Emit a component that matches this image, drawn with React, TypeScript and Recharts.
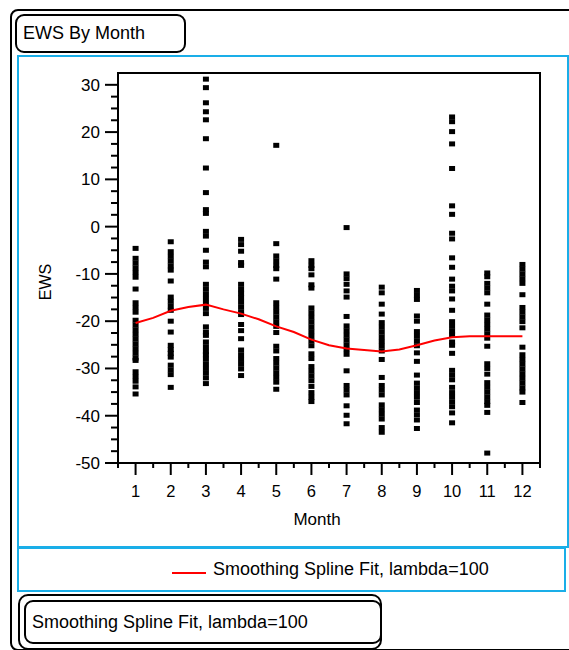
import { ScatterChart, Scatter, XAxis, YAxis, ReferenceArea } from "recharts";

// EWS readings per month (one entry per plotted square)
const ewsJan = [-4.6, -6.7, -7.7, -8.7, -9.7, -10.7, -13.2, -16.1, -17.1, -18.1, -19.8, -20.8, -21.8, -22.8, -23.8, -24.8, -25.8, -26.8, -27.8, -28.3, -30.7, -31.7, -32.7, -33.9, -35.4];
const ewsFeb = [-3.2, -5.3, -6.3, -7.3, -8.3, -9.2, -11.5, -14.9, -15.8, -16.8, -17.7, -20.0, -22.3, -25.1, -26.0, -26.8, -27.6, -29.3, -30.3, -31.3, -34.0];
const ewsMar = [31.2, 29.4, 26.2, 24.3, 22.6, 18.6, 12.4, 7.2, 3.6, 2.8, -1.0, -2.0, -5.0, -7.5, -8.5, -12.2, -13.2, -14.2, -15.2, -16.2, -17.3, -18.4, -21.2, -22.3, -23.0, -24.4, -25.4, -26.4, -27.1, -28.0, -29.0, -30.0, -31.0, -32.0, -33.2];
const ewsApr = [-2.7, -3.8, -5.2, -7.6, -8.2, -12.2, -13.2, -14.1, -15.0, -16.0, -17.0, -18.0, -18.6, -20.7, -22.0, -23.7, -26.1, -27.1, -28.1, -29.1, -30.1, -31.5];
const ewsMay = [17.2, -3.6, -6.2, -7.2, -8.2, -8.9, -11.1, -16.1, -17.1, -18.1, -19.1, -20.1, -21.1, -22.4, -25.3, -26.3, -27.9, -28.9, -29.9, -30.9, -31.9, -32.9, -34.4];
const ewsJun = [-7.2, -8.2, -8.9, -10.2, -12.3, -13.0, -17.2, -18.2, -19.2, -20.2, -21.2, -22.2, -23.2, -24.2, -25.2, -26.9, -27.9, -29.6, -30.6, -31.6, -32.6, -33.8, -35.1, -36.1, -37.0];
const ewsJul = [-0.2, -10.0, -11.0, -12.2, -13.6, -14.9, -19.0, -21.0, -22.0, -23.0, -24.0, -25.0, -26.0, -27.0, -30.5, -33.6, -34.6, -35.6, -37.9, -39.9, -41.7];
const ewsAug = [-12.8, -14.0, -16.4, -18.5, -20.3, -21.3, -22.3, -23.3, -24.3, -25.3, -26.3, -28.1, -31.9, -33.6, -34.6, -35.6, -37.7, -38.7, -39.7, -40.7, -42.5, -43.5];
const ewsSep = [-13.5, -14.5, -15.4, -18.9, -20.0, -22.2, -23.2, -24.2, -25.2, -26.7, -28.5, -31.4, -33.1, -34.1, -35.1, -36.1, -37.2, -38.8, -39.8, -40.9, -42.7];
const ewsOct = [23.2, 22.2, 20.1, 17.5, 12.3, 4.4, 2.6, -1.4, -2.6, -6.6, -8.6, -11.1, -12.6, -13.6, -15.3, -17.7, -20.1, -21.1, -22.1, -22.9, -24.4, -25.1, -26.8, -30.4, -31.4, -32.4, -34.0, -35.1, -36.1, -37.1, -38.1, -39.4, -41.5];
const ewsNov = [-9.8, -10.6, -12.0, -13.0, -14.0, -16.4, -18.7, -19.7, -20.7, -21.7, -22.7, -23.6, -25.3, -29.0, -30.0, -31.2, -33.0, -34.0, -35.0, -36.0, -37.0, -37.8, -39.3, -47.9];
const ewsDec = [-8.0, -9.0, -10.0, -11.0, -12.0, -14.4, -17.1, -18.1, -19.1, -20.1, -21.4, -25.5, -27.1, -28.1, -29.1, -30.1, -31.1, -32.1, -33.1, -34.1, -35.0, -37.2];

const monthValues = [ewsJan, ewsFeb, ewsMar, ewsApr, ewsMay, ewsJun, ewsJul, ewsAug, ewsSep, ewsOct, ewsNov, ewsDec];

// smoothing spline, read at half-month steps
const splineMonths = [1, 1.5, 2, 2.5, 3, 3.5, 4, 4.5, 5, 5.5, 6, 6.5, 7, 7.5, 8, 8.5, 9, 9.5, 10, 10.5, 11, 11.5, 12];
const splineEws = [-20.4, -19.3, -17.8, -17.0, -16.5, -17.5, -18.4, -19.6, -21.1, -22.3, -23.9, -25.1, -25.8, -26.1, -26.4, -26.0, -25.1, -24.1, -23.4, -23.2, -23.2, -23.2, -23.2];

const xTicks = [0.5, 1, 1.5, 2, 2.5, 3, 3.5, 4, 4.5, 5, 5.5, 6, 6.5, 7, 7.5, 8, 8.5, 9, 9.5, 10, 10.5, 11, 11.5, 12, 12.5];
const yTicks = [-50, -47.5, -45, -42.5, -40, -37.5, -35, -32.5, -30, -27.5, -25, -22.5, -20, -17.5, -15, -12.5, -10, -7.5, -5, -2.5, 0, 2.5, 5, 7.5, 10, 12.5, 15, 17.5, 20, 22.5, 25, 27.5, 30];

const legendLabel = "Smoothing Spline Fit, lambda=100";

const points = monthValues.flatMap((vals, i) => vals.map((v) => ({ month: i + 1, ews: v })));
const spline = splineMonths.map((m, i) => ({ month: m, ews: splineEws[i] }));

const FONT = '"Liberation Sans", Arial, sans-serif';
const BLUE = "#1aaee8";

const YTick = (props: any) => {
  const { x, y, payload } = props;
  const major = payload.value % 10 === 0;
  return (
    <g>
      <line x1={x} x2={x - (major ? 13 : 7)} y1={y} y2={y} stroke="#000" strokeWidth={2} />
      {major && (
        <text x={x - 18} y={y + 6} textAnchor="end" fontSize={17} fontFamily={FONT} fill="#000">
          {payload.value}
        </text>
      )}
    </g>
  );
};

const XTick = (props: any) => {
  const { x, y, payload } = props;
  const major = Number.isInteger(payload.value);
  return (
    <g>
      <line x1={x} x2={x} y1={y} y2={y + (major ? 12 : 5)} stroke="#000" strokeWidth={2} />
      {major && (
        <text x={x} y={y + 34} textAnchor="middle" fontSize={16.5} fontFamily={FONT} fill="#000">
          {payload.value}
        </text>
      )}
    </g>
  );
};

const Square = (props: any) => (
  <rect x={props.cx - 3} y={props.cy - 2.5} width={6} height={5} fill="#000" />
);

export default function App() {
  return (
    <div style={{ position: "absolute", left: 0, top: 0, width: 569, height: 650, overflow: "hidden", background: "#fff", fontFamily: FONT }}>
      {/* outer frame */}
      <div style={{ position: "absolute", left: 10, top: 9, width: 600, height: 638, border: "2px solid #000", borderRadius: 8 }} />
      {/* title */}
      <div style={{ position: "absolute", left: 15, top: 14, width: 161, height: 35, border: "2px solid #000", borderRadius: 9, display: "flex", alignItems: "center", paddingLeft: 6, fontSize: 18, color: "#000" }}>
        EWS By Month
      </div>
      {/* chart frame */}
      <div style={{ position: "absolute", left: 17, top: 55, width: 548, height: 489, border: `2px solid ${BLUE}` }} />
      <div style={{ position: "absolute", left: 0, top: 0 }}>
        <ScatterChart width={569} height={540} margin={{ top: 73, right: 29, bottom: 37, left: 58 }}>
          <XAxis
            type="number"
            dataKey="month"
            domain={[0.5, 12.5]}
            ticks={xTicks}
            interval={0}
            tick={<XTick />}
            tickSize={0}
            tickMargin={0}
            tickLine={false}
            height={40}
            axisLine={{ stroke: "#000", strokeWidth: 2 }}
            label={{ value: "Month", content: () => (
              <text x={317} y={525} textAnchor="middle" fontSize={17} fontFamily={FONT} fill="#000">Month</text>
            ) }}
          />
          <YAxis
            type="number"
            dataKey="ews"
            domain={[-50, 32.5]}
            ticks={yTicks}
            interval={0}
            tick={<YTick />}
            tickSize={0}
            tickMargin={0}
            tickLine={false}
            width={60}
            axisLine={{ stroke: "#000", strokeWidth: 2 }}
            label={{ value: "EWS", content: () => (
              <text x={51} y={282} transform="rotate(-90 51 282)" textAnchor="middle" fontSize={16} fontFamily={FONT} fill="#000">EWS</text>
            ) }}
          />
          <ReferenceArea x1={0.5} x2={12.5} y1={-50} y2={32.5} fill="none" stroke="#000" strokeWidth={2} ifOverflow="visible" />
          <Scatter data={points} shape={<Square />} isAnimationActive={false} />
          <Scatter
            data={spline}
            line={{ stroke: "#ff0000", strokeWidth: 2 }}
            lineJointType="linear"
            shape={() => <g />}
            isAnimationActive={false}
          />
        </ScatterChart>
      </div>
      {/* legend */}
      <div style={{ position: "absolute", left: 17, top: 547, width: 545, height: 41, border: `2px solid ${BLUE}` }}>
        <svg width={36} height={4} style={{ position: "absolute", left: 153, top: 22 }}>
          <line x1={0} x2={34} y1={2} y2={2} stroke="#ff0000" strokeWidth={2} />
        </svg>
        <div style={{ position: "absolute", left: 194, top: 0, height: 41, display: "flex", alignItems: "center", fontSize: 18, whiteSpace: "nowrap" }}>
          {legendLabel}
        </div>
      </div>
      {/* fit title */}
      <div style={{ position: "absolute", left: 18, top: 594, width: 360, height: 52, border: "2px solid #000", borderRadius: 10 }}>
        <div style={{ position: "absolute", left: 4, top: 4, width: 348, height: 40, border: "2px solid #000", borderRadius: 9, display: "flex", alignItems: "center", paddingLeft: 6, fontSize: 18, whiteSpace: "nowrap" }}>
          {legendLabel}
        </div>
      </div>
    </div>
  );
}
